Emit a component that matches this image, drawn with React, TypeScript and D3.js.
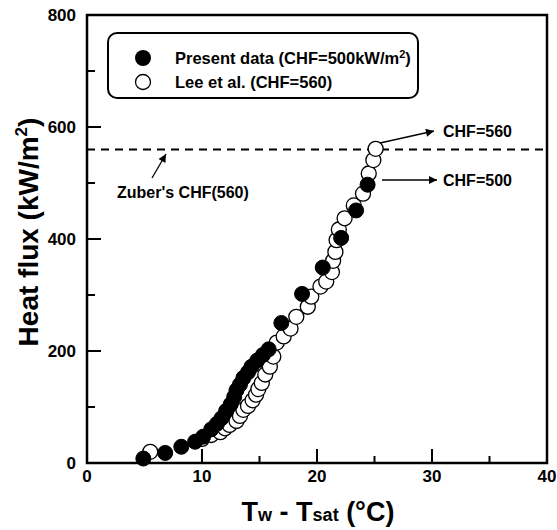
import React from "react";
import * as d3 from "d3";

const presentX = [4.9, 6.8, 8.2, 9.4, 10.1, 10.8, 11.3, 11.7, 12.1, 12.5, 12.8, 13.0, 13.3, 13.6, 14.0, 14.3, 14.8, 15.3, 15.8, 16.9, 18.7, 20.5, 22.1, 23.4, 24.4];
const presentY = [8, 18, 29, 38, 47, 60, 70, 80, 93, 105, 118, 130, 140, 152, 162, 172, 183, 193, 203, 250, 302, 349, 402, 451, 497];

const leeX = [5.5, 10.0, 10.8, 11.6, 12.0, 12.4, 13.0, 13.3, 13.6, 14.0, 14.4, 14.7, 14.9, 15.2, 15.5, 15.9, 16.2, 16.5, 17.1, 17.7, 18.2, 19.2, 19.5, 20.3, 20.8, 21.3, 21.4, 21.6, 21.7, 21.9, 22.4, 23.2, 24.0, 24.5, 24.9, 25.1];
const leeY = [20, 43, 50, 55, 62, 68, 75, 84, 95, 102, 112, 122, 132, 143, 158, 172, 190, 215, 226, 240, 261, 279, 297, 315, 324, 341, 361, 377, 398, 417, 437, 460, 481, 517, 541, 561];

const xMajor = [0, 10, 20, 30, 40];
const xMinor = [5, 15, 25, 35];
const yMajor = [0, 200, 400, 600, 800];
const yMinor = [100, 300, 500, 700];
const zuberCHF = 560;

const FONT = "'Liberation Sans', Arial, Helvetica, sans-serif";

export default function App() {
  const left = 87, right = 547, top = 15, bottom = 463;
  const x = d3.scaleLinear().domain([0, 40]).range([left, right]);
  const y = d3.scaleLinear().domain([0, 800]).range([bottom, top]);
  const r = 7.5;

  const present = presentX.map((v, i) => [v, presentY[i]]);
  const lee = leeX.map((v, i) => [v, leeY[i]]);

  return (
    <svg width={557} height={530} style={{ position: "absolute", left: 0, top: 0, background: "#fff" }} fontFamily={FONT}>
      <defs>
        <marker id="arr" viewBox="0 0 10 10" refX="10" refY="5" markerWidth="11" markerHeight="8" markerUnits="userSpaceOnUse" orient="auto">
          <path d="M0,0 L10,5 L0,10 z" fill="#000" />
        </marker>
      </defs>
      <rect x={0} y={0} width={557} height={530} fill="#fff" />

      {/* dashed Zuber line */}
      <line x1={left} x2={right} y1={y(zuberCHF)} y2={y(zuberCHF)} stroke="#000" strokeWidth={2} strokeDasharray="8,6" />

      {/* ticks */}
      {xMajor.slice(1, -1).map((t) => (
        <line key={"xM" + t} x1={x(t)} x2={x(t)} y1={bottom} y2={bottom - 14} stroke="#000" strokeWidth={2} />
      ))}
      {xMinor.map((t) => (
        <line key={"xm" + t} x1={x(t)} x2={x(t)} y1={bottom} y2={bottom - 7} stroke="#000" strokeWidth={2} />
      ))}
      {yMajor.slice(1, -1).map((t) => (
        <line key={"yM" + t} x1={left} x2={left + 14} y1={y(t)} y2={y(t)} stroke="#000" strokeWidth={2} />
      ))}
      {yMinor.map((t) => (
        <line key={"ym" + t} x1={left} x2={left + 8} y1={y(t)} y2={y(t)} stroke="#000" strokeWidth={2} />
      ))}

      {/* data */}
      {lee.map(([a, b], i) => (
        <circle key={"l" + i} cx={x(a)} cy={y(b)} r={r} fill="#fff" stroke="#000" strokeWidth={1.3} />
      ))}
      {present.map(([a, b], i) => (
        <circle key={"p" + i} cx={x(a)} cy={y(b)} r={r} fill="#000" stroke="#000" strokeWidth={1} />
      ))}

      {/* frame */}
      <rect x={left} y={top} width={right - left} height={bottom - top} fill="none" stroke="#000" strokeWidth={2.5} />

      {/* tick labels */}
      {xMajor.map((t) => (
        <text key={"xl" + t} x={x(t)} y={482} textAnchor="middle" fontSize={17} fontWeight="bold">{t}</text>
      ))}
      {yMajor.map((t) => (
        <text key={"yl" + t} x={76} y={y(t) + 6} textAnchor="end" fontSize={17} fontWeight="bold">{t}</text>
      ))}

      {/* axis titles */}
      <text x={318} y={521} textAnchor="middle" fontSize={27} fontWeight="bold">
        <tspan>T</tspan>
        <tspan fontSize={18}>w</tspan>
        <tspan> - T</tspan>
        <tspan fontSize={18}>sat</tspan>
        <tspan> (°C)</tspan>
      </text>
      <text transform="translate(38,232) rotate(-90)" textAnchor="middle" fontSize={28} fontWeight="bold">
        <tspan>Heat flux (kW/m</tspan>
        <tspan fontSize={17} dy={-11}>2</tspan>
        <tspan dy={11}>)</tspan>
      </text>

      {/* legend */}
      <rect x={108} y={33} width={310} height={65} rx={9} ry={9} fill="#fff" stroke="#000" strokeWidth={2} />
      <circle cx={143} cy={58} r={8} fill="#000" />
      <circle cx={143} cy={82} r={7.5} fill="#fff" stroke="#000" strokeWidth={1.3} />
      <text x={175} y={64} fontSize={16.5} fontWeight="bold">
        <tspan>Present data (CHF=500kW/m</tspan>
        <tspan fontSize={11} dy={-6}>2</tspan>
        <tspan dy={6}>)</tspan>
      </text>
      <text x={175} y={88} fontSize={16.5} fontWeight="bold">Lee et al. (CHF=560)</text>

      {/* annotations */}
      <line x1={380} y1={143} x2={434} y2={131} stroke="#000" strokeWidth={1.3} markerEnd="url(#arr)" />
      <text x={443} y={137} fontSize={16} fontWeight="bold">CHF=560</text>
      <line x1={382} y1={180} x2={437} y2={180} stroke="#000" strokeWidth={1.3} markerEnd="url(#arr)" />
      <text x={443} y={186} fontSize={16} fontWeight="bold">CHF=500</text>
      <line x1={152} y1={178} x2={166} y2={154} stroke="#000" strokeWidth={1.3} markerEnd="url(#arr)" />
      <text x={117} y={198} fontSize={16} fontWeight="bold">Zuber's CHF(560)</text>
    </svg>
  );
}
